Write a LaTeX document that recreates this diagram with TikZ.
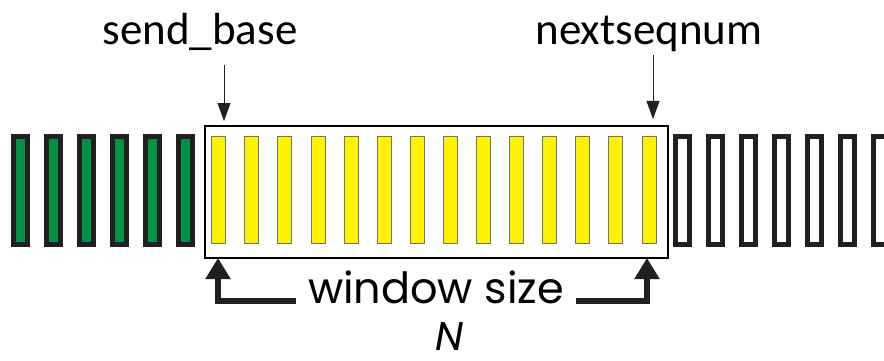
\documentclass[tikz,border=0pt]{standalone}
\usepackage{fontspec}
\setmainfont{Carlito}
\newfontfamily\gothic{Poppins}
\usetikzlibrary{positioning, calc, arrows.meta}
\definecolor{ackgreen}{RGB}{0,146,69}
\definecolor{ink}{RGB}{35,31,32}

\begin{document}
\begin{tikzpicture}[
    x=1pt, y=-1pt,
    every node/.style={inner sep=0pt, outer sep=0pt},
    sent/.style={draw=ink, line width=5pt, fill=ackgreen, minimum width=14pt, minimum height=108pt},
    pending/.style={draw=black!55, line width=0.8pt, fill=yellow, minimum width=14pt, minimum height=107pt},
    unused/.style={draw=ink, line width=5pt, fill=white, minimum width=14pt, minimum height=108pt},
    lbl/.style={font=\fontsize{45}{50}\selectfont, anchor=base},
    ptr/.style={-{Triangle[length=18pt, width=13pt]}, line width=0.8pt, ink},
    span/.style={-{Triangle[length=21pt, width=24pt]}, line width=6pt, ink}
  ]
  \useasboundingbox (0,0) rectangle (884,361);
  % sequence number cells
  \foreach \i in {0,...,5}
    \node[sent] (c\i) at ({20+33.1*\i},190.5) {};
  \foreach \i in {6,...,19}
    \node[pending] (c\i) at ({20+33.1*\i},190) {};
  \foreach \i in {20,...,26}
    \node[unused] (c\i) at ({20+33.1*\i},190.5) {};
  % window
  \node[draw=black, line width=2pt, minimum width=463pt, minimum height=132pt] (win) at (436.5,192) {};

  \node[lbl] (sb) at (200,45) {send\_base};
  \node[lbl] (nsn) at (649,45) {nextseqnum};
  \coordinate (sbtip) at ([xshift=19pt]win.north west);
  \coordinate (nsntip) at ([xshift=-15pt]win.north east);
  \draw[ptr, shorten <=14pt, shorten >=5pt] (sbtip |- sb.south) -- (sbtip);
  \draw[ptr, shorten <=3pt, shorten >=7pt] (nsntip |- nsn.south) -- (nsntip);

  \node[font=\gothic\fontsize{43}{47}\selectfont, anchor=base, inner xsep=12pt] (ws) at (436,303) {window size};
  \coordinate (lt) at ([xshift=13pt]win.south west);
  \coordinate (rt) at ([xshift=-21pt]win.south east);
  \draw[span] (ws.mid west) -| (lt);
  \draw[span] (ws.mid east) -| (rt);

  \node[font=\gothic\itshape\fontsize{40}{44}\selectfont, anchor=base] (n) at (450,350) {N};
\end{tikzpicture}
\end{document}
